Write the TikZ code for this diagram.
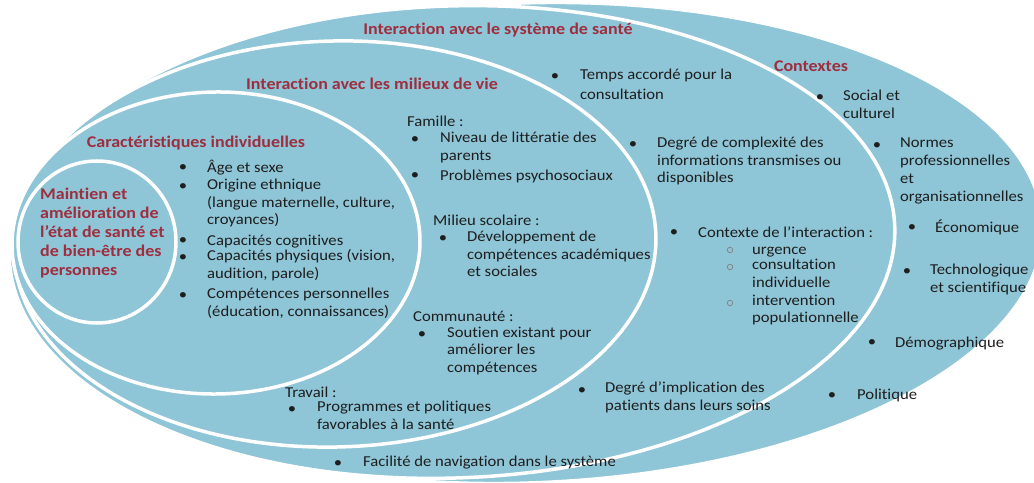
\documentclass[tikz,border=0pt]{standalone}
\usepackage{fontspec}
\setmainfont{Carlito}[FakeStretch=1.1,Ligatures=NoCommon]
\definecolor{bleu}{RGB}{142,197,215}
\definecolor{bordeaux}{RGB}{158,46,62}
\definecolor{encre}{RGB}{30,30,30}

\begin{document}
\begin{tikzpicture}[x=1bp,y=-1bp,
  anneau/.style={fill=bleu,draw=white,line width=3.5bp},
  titre/.style={anchor=base,inner sep=0pt,text=bordeaux,font=\fontsize{16.4}{19}\selectfont\bfseries},
  texte/.style={anchor=north west,inner sep=0pt,align=left,text=encre,font=\fontsize{15.2}{18}\selectfont,execute at begin node=\strut},
  puce/.style={anchor=base,inner sep=0pt,text=encre,font=\fontsize{15.2}{18}\selectfont},
  rond/.style={circle,draw=gray,line width=0.7bp,minimum size=5.5bp,inner sep=0pt}]
\useasboundingbox (0,0) rectangle (1034,483);
\fill [white] (0,0) rectangle (1034,483);
\clip (0,0) rectangle (1034,483);
\draw [anneau,rotate around={2:(525,243)}] (525,243) ellipse [x radius=518,y radius=240];
\draw [anneau,rotate around={2:(452,242)}] (452,242) ellipse [x radius=443,y radius=236];
\draw [anneau,rotate around={1.5:(335,244)}] (335,244) ellipse [x radius=321,y radius=203];
\draw [anneau,rotate around={1:(216,243)}] (216,243) ellipse [x radius=204,y radius=151];
\draw [anneau] (97,242) ellipse [x radius=79,y radius=81];

\node [titre] (tsante) at (498,34.5) {Interaction avec le système de santé};
\node [titre] (tmilieux) at (372,89.5) {Interaction avec les milieux de vie};
\node [titre] (tcontextes) at (811,71.5) {Contextes};
\node [titre] (tindiv) at (196,147.5) {Caractéristiques individuelles};
\node [titre,anchor=north west,align=left,execute at begin node=\strut] (tmaintien) at (40,188.2)
  {Maintien et\\amélioration de\\l’état de santé et\\de bien-être des\\personnes};

\node [puce] (pa1) at (183,172) {\textbullet};
\node [texte] (ia1) at (207,159.4) {Âge et sexe};
\node [puce] (pa2) at (183,191) {\textbullet};
\node [texte] (ia2) at (207,178.4) {Origine ethnique\\(langue maternelle, culture,\\croyances)};
\node [puce] (pa3) at (183,245) {\textbullet};
\node [texte] (ia3) at (207,232.4) {Capacités cognitives};
\node [puce] (pa4) at (183,262) {\textbullet};
\node [texte] (ia4) at (207,249.4) {Capacités physiques (vision,\\audition, parole)};
\node [puce] (pa5) at (183,300) {\textbullet};
\node [texte] (ia5) at (207,287.4) {Compétences personnelles\\(éducation, connaissances)};

\node [texte] (famille) at (407,113.4) {Famille :};
\node [puce] (pb1) at (415,144) {\textbullet};
\node [texte] (ib1) at (440,131.4) {Niveau de littératie des\\parents};
\node [puce] (pb2) at (415,180) {\textbullet};
\node [texte] (ib2) at (440,167.4) {Problèmes psychosociaux};
\node [texte] (scolaire) at (433,212.4) {Milieu scolaire :};
\node [puce] (pb3) at (443,243) {\textbullet};
\node [texte] (ib3) at (467,230.4) {Développement de\\compétences académiques\\et sociales};
\node [texte] (communaute) at (413,308.4) {Communauté :};
\node [puce] (pb4) at (422,339) {\textbullet};
\node [texte] (ib4) at (447,326.4) {Soutien existant pour\\améliorer les\\compétences};
\node [texte] (travail) at (285,384.4) {Travail :};
\node [puce] (pb5) at (292,413) {\textbullet};
\node [texte] (ib5) at (317,400.4) {Programmes et politiques\\favorables à la santé};

\node [puce] (pc1) at (555,81) {\textbullet};
\node [texte] (ic1) at (580,68.4) {Temps accordé pour la\\[2bp]consultation};
\node [puce] (pc2) at (633,149) {\textbullet};
\node [texte] (ic2) at (657,136.4) {Degré de complexité des\\informations transmises ou\\disponibles};
\node [puce] (pc3) at (674,237) {\textbullet};
\node [texte] (ic3) at (698,224.4) {Contexte de l’interaction :};
\node [rond] (r1) at (730,250) {};
\node [texte] (sc1) at (752,241.4) {urgence};
\node [rond] (r2) at (730,267) {};
\node [texte] (sc2) at (752,258.4) {consultation\\individuelle};
\node [rond] (r3) at (730,303) {};
\node [texte] (sc3) at (752,294.4) {intervention\\populationnelle};
\node [puce] (pc4) at (582,394) {\textbullet};
\node [texte] (ic4) at (605,381.4) {Degré d’implication des\\patients dans leurs soins};
\node [puce] (pc5) at (338,467) {\textbullet};
\node [texte] (ic5) at (363,453.4) {Facilité de navigation dans le système};

\node [puce] (pd1) at (820,102) {\textbullet};
\node [texte] (id1) at (843,89.4) {Social et\\culturel};
\node [puce] (pd2) at (877,150) {\textbullet};
\node [texte] (id2) at (900,137.4) {Normes\\professionnelles\\et\\organisationnelles};
\node [puce] (pd3) at (912,232) {\textbullet};
\node [texte] (id3) at (935,219.4) {Économique};
\node [puce] (pd4) at (907,276) {\textbullet};
\node [texte] (id4) at (930,263.4) {Technologique\\et scientifique};
\node [puce] (pd5) at (872,347) {\textbullet};
\node [texte] (id5) at (895,334.4) {Démographique};
\node [puce] (pd6) at (832,399) {\textbullet};
\node [texte] (id6) at (857,386.4) {Politique};
\end{tikzpicture}
\end{document}
